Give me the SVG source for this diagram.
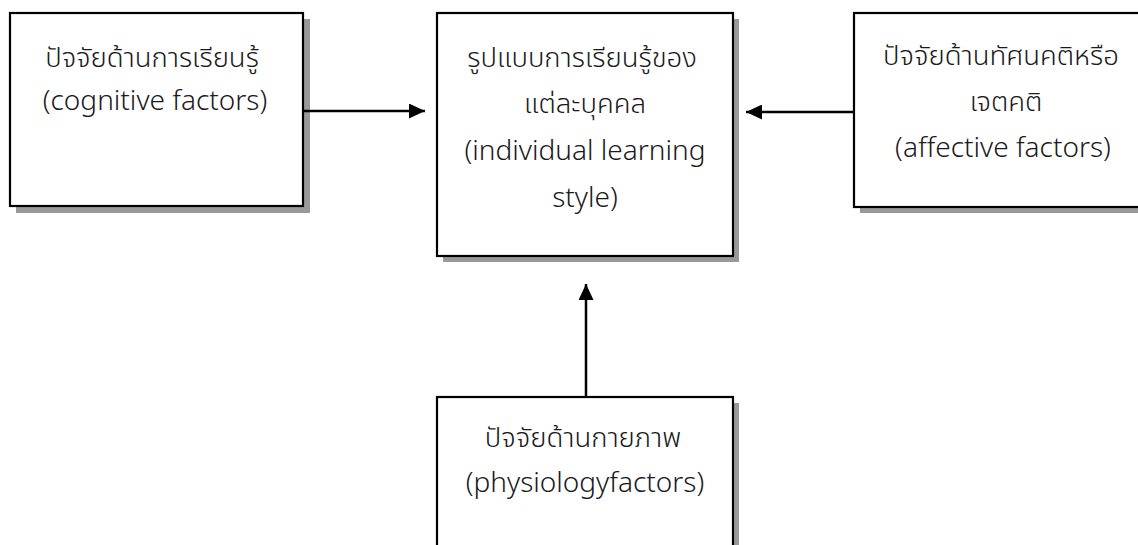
<svg xmlns="http://www.w3.org/2000/svg" width="1138" height="545" viewBox="0 0 1138 545">
  <defs>
    <marker id="arrow" viewBox="0 0 16 15" refX="16" refY="7.5" markerWidth="16" markerHeight="15" markerUnits="userSpaceOnUse" orient="auto">
      <path d="M0,0 L16,7.5 L0,15 Z" fill="#000"/>
    </marker>
  </defs>
  <style>
    .shadow { fill: #999; stroke: none; }
    .box { fill: #fff; stroke: #000; stroke-width: 2.2; }
    .label { font-family: "Noto Sans", "Noto Sans Thai", "DejaVu Sans", sans-serif; font-size: 28px; font-weight: 300; fill: #1a1a1a; text-anchor: middle; }
    .th { font-size: 27.5px; }
    .link { stroke: #000; stroke-width: 2.5; fill: none; marker-end: url(#arrow); }
  </style>
  <rect width="1138" height="545" fill="#fff"/>

  <!-- cognitive factors -->
  <g id="cognitive">
    <rect class="shadow" x="16" y="19" width="294" height="194"/>
    <rect class="box" x="10" y="13" width="293" height="193"/>
    <text class="label th" x="152" y="67">ปัจจัยด้านการเรียนรู้</text>
    <text class="label" x="155" y="110">(cognitive factors)</text>
  </g>

  <!-- individual learning style -->
  <g id="learning-style">
    <rect class="shadow" x="443" y="19" width="296" height="243"/>
    <rect class="box" x="437" y="13" width="296" height="243"/>
    <text class="label th" x="582" y="67">รูปแบบการเรียนรู้ของ</text>
    <text class="label th" x="585" y="113">แต่ละบุคคล</text>
    <text class="label" x="585" y="160">(individual learning</text>
    <text class="label" x="585" y="207">style)</text>
  </g>

  <!-- affective factors -->
  <g id="affective">
    <rect class="shadow" x="860" y="19" width="300" height="194"/>
    <rect class="box" x="854" y="13" width="300" height="194"/>
    <text class="label th" x="1001" y="65">ปัจจัยด้านทัศนคติหรือ</text>
    <text class="label th" x="1006" y="111">เจตคติ</text>
    <text class="label" x="1003" y="157">(affective factors)</text>
  </g>

  <!-- physiology factors -->
  <g id="physiology">
    <rect class="shadow" x="443" y="403" width="296" height="200"/>
    <rect class="box" x="437" y="397" width="296" height="200"/>
    <text class="label th" x="583" y="447">ปัจจัยด้านกายภาพ</text>
    <text class="label" x="585" y="492">(physiologyfactors)</text>
  </g>

  <!-- connectors -->
  <g id="connectors">
    <line class="link" x1="303" y1="111" x2="425" y2="111"/>
    <line class="link" x1="853" y1="112" x2="746" y2="112"/>
    <line class="link" x1="586" y1="397" x2="586" y2="284"/>
  </g>
</svg>
